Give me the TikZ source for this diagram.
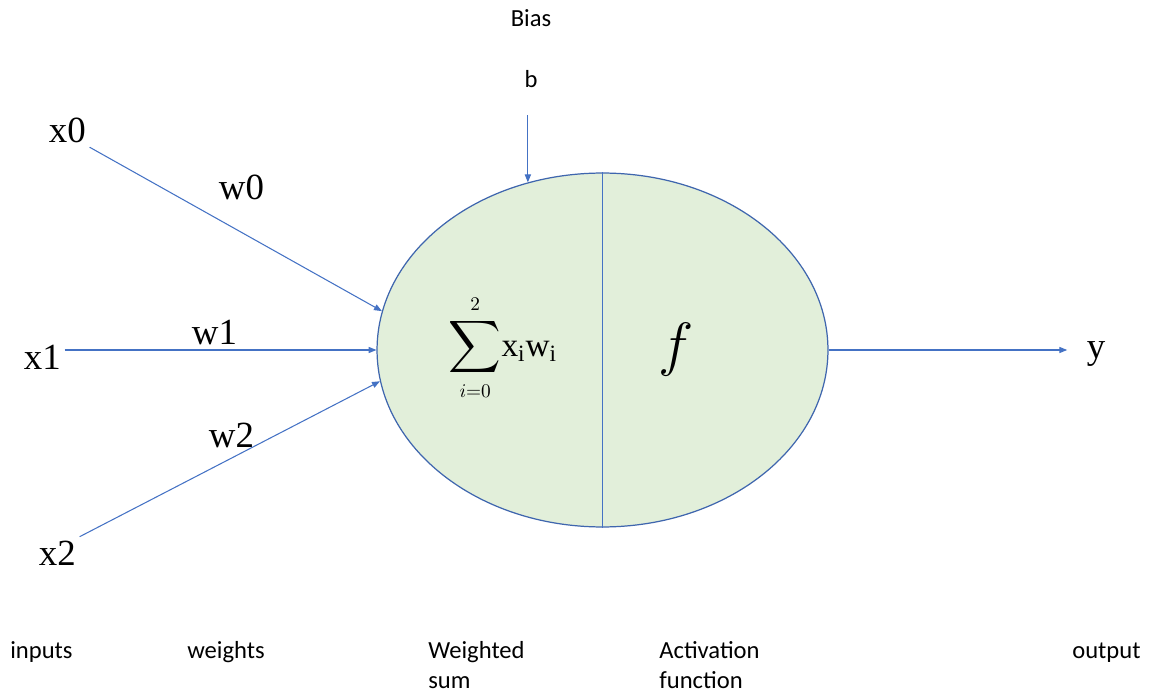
\documentclass[tikz,border=0pt]{standalone}
\usepackage{fix-cm}
\usepackage{amsmath}
\usepackage{fontspec}
\setmainfont{Liberation Serif}
\newfontfamily\calibri{Carlito}
\usepackage{tikz}
\usetikzlibrary{shapes.geometric, arrows.meta, positioning, calc}
\definecolor{linea}{HTML}{4472C4}
\definecolor{bordo}{HTML}{3F66AE}
\definecolor{riempi}{HTML}{E2EFDA}

\begin{document}
\begin{tikzpicture}[x=0.02cm, y=-0.02cm, >={Triangle[length=4.5pt,width=3.5pt]},
  freccia/.style={->, draw=linea, line width=0.6pt},
  ingresso/.style={font=\fontsize{21}{24}\selectfont, inner sep=2pt, anchor=base west},
  didascalia/.style={font=\calibri\fontsize{14}{17}\selectfont, align=left, inner sep=0pt, anchor=base west}]

  \useasboundingbox (0,0) rectangle (1158,695);

  % Neurone
  \node[ellipse, draw=bordo, fill=riempi, line width=0.7pt, minimum width=9.02cm,
        minimum height=7.08cm, inner sep=0pt] (neurone) at (602.5,350) {};
  \draw[linea, line width=0.7pt] (neurone.north) -- (neurone.south);
  \node (somma) at (503,348) {\fontsize{22}{24}\selectfont
    $\displaystyle\sum_{\scriptscriptstyle i=0}^{\scriptscriptstyle 2}$\fontsize{19}{22}\selectfont$\mathrm{x_iw_i}$};
  \node (attiv) at (676,350) {\fontsize{34}{36}\selectfont$f$};

  % Bias
  \node[font=\calibri\fontsize{14}{17}\selectfont, anchor=base] (bias) at (531,27) {Bias};
  \node[font=\calibri\fontsize{14}{17}\selectfont, anchor=base] (b) at (531,88) {b};
  \draw[freccia, shorten <=12pt] (b.south -| neurone.114) -- (neurone.114);

  % Ingressi e pesi
  \node[ingresso] (x0) at (45,143) {x0};
  \node[ingresso] (x1) at (20,370) {x1};
  \node[ingresso] (x2) at (35,565) {x2};
  \node[ingresso] (w0) at (215,200) {w0};
  \node[ingresso] (w1) at (188,345) {w1};
  \node[ingresso] (w2) at (205,447) {w2};
  \draw[freccia] (x0.south east) -- (neurone.170);
  \draw[freccia] (x1.east |- neurone.west) -- (neurone.west);
  \draw[freccia] (x2.north east) -- (neurone.188);

  % Uscita
  \node[ingresso] (y) at (1083,358) {y};
  \draw[freccia, shorten >=9pt] (neurone.east) -- (neurone.east -| y.west);

  % Didascalie
  \node[didascalia] (inputs) at (10,658) {inputs};
  \node[didascalia] (weights) at (187,658) {weights};
  \node[didascalia] (wsum) at (428,688) {Weighted\\sum};
  \node[didascalia] (activ) at (659,688) {Activation\\function};
  \node[didascalia] (output) at (1072,658) {output};
\end{tikzpicture}
\end{document}
